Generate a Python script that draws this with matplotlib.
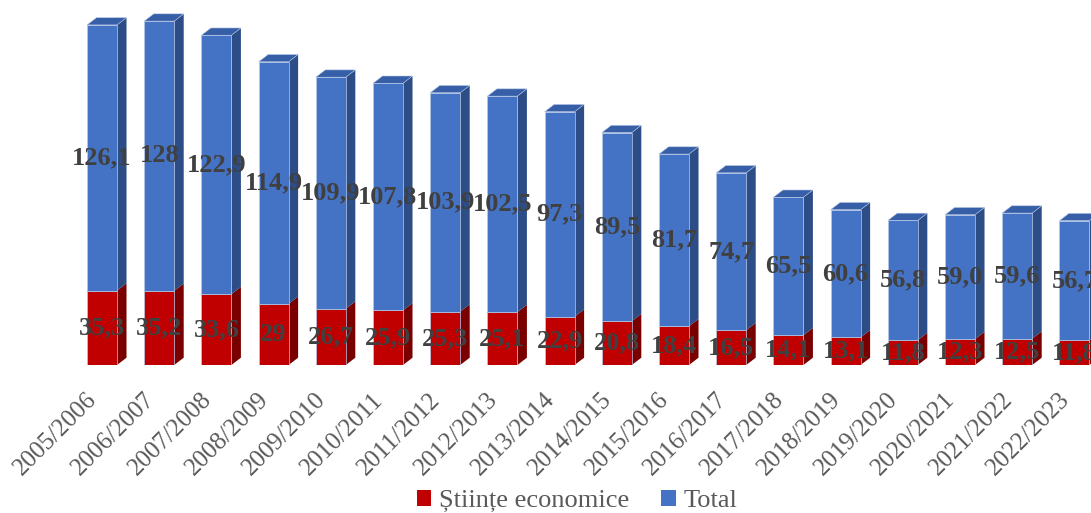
import numpy as np
from matplotlib import pyplot as plt
from matplotlib.patches import Polygon, Patch
from matplotlib.transforms import ScaledTranslation

plt.rcParams['font.family'] = ['Liberation Serif', 'DejaVu Serif']

years = ['2005/2006', '2006/2007', '2007/2008', '2008/2009', '2009/2010',
         '2010/2011', '2011/2012', '2012/2013', '2013/2014', '2014/2015',
         '2015/2016', '2016/2017', '2017/2018', '2018/2019', '2019/2020',
         '2020/2021', '2021/2022', '2022/2023']
econ = [35.3, 35.2, 33.6, 29, 26.7, 25.9, 25.3, 25.1, 22.9, 20.8,
        18.4, 16.5, 14.1, 13.1, 11.8, 12.3, 12.5, 11.8]
total = [126.1, 128, 122.9, 114.9, 109.9, 107.8, 103.9, 102.5, 97.3, 89.5,
         81.7, 74.7, 65.5, 60.6, 56.8, 59.0, 59.6, 56.7]
econ_lbl = ['35,3', '35,2', '33,6', '29', '26,7', '25,9', '25,3', '25,1', '22,9',
            '20,8', '18,4', '16,5', '14,1', '13,1', '11,8', '12,3', '12,5', '11,8']
total_lbl = ['126,1', '128', '122,9', '114,9', '109,9', '107,8', '103,9', '102,5',
             '97,3', '89,5', '81,7', '74,7', '65,5', '60,6', '56,8', '59,0', '59,6', '56,7']

# colours: front, side, top
red = ('#C00000', '#7A0000', '#A00000')
blue = ('#4472C4', '#2C4D86', '#365FA8')

fig = plt.figure(figsize=(10.91, 5.13), dpi=100)
ax = fig.add_axes([0, 148 / 513, 1, 365 / 513])

x = np.arange(len(years))
w = 0.525
dx = 0.166   # depth to the right
dy = 3.46    # depth upward

def draw_seg(xc, bottom, h, cols, top_face):
    ax.bar(xc, h, w, bottom=bottom, color=cols[0], edgecolor='#B8C8E6',
           linewidth=0.5, zorder=3)
    xr = xc + w / 2
    side = Polygon([(xr, bottom), (xr + dx, bottom + dy), (xr + dx, bottom + h + dy),
                    (xr, bottom + h)], closed=True, facecolor=cols[1],
                   edgecolor='none', zorder=2)
    ax.add_patch(side)
    if top_face:
        xl = xc - w / 2
        top = bottom + h
        tp = Polygon([(xl, top), (xr, top), (xr + dx, top + dy), (xl + dx, top + dy)],
                     closed=True, facecolor=cols[2], edgecolor='#B8C8E6',
                     linewidth=0.4, zorder=2)
        ax.add_patch(tp)

for i in range(len(years)):
    draw_seg(x[i], 0, econ[i], red, False)
    draw_seg(x[i], econ[i], total[i], blue, True)
    ax.text(x[i], econ[i] / 2, econ_lbl[i], ha='center', va='center',
            fontsize=19, fontweight='bold', color='#404040', zorder=5)
    ax.text(x[i], econ[i] + total[i] / 2, total_lbl[i], ha='center', va='center',
            fontsize=19, fontweight='bold', color='#404040', zorder=5)

ax.set_xlim(-102 / 57.2, (1091 - 102) / 57.2)
ax.set_ylim(0, 365 / 2.107)
for s in ax.spines.values():
    s.set_visible(False)
ax.set_yticks([])
ax.set_xticks(x)
ax.set_xticklabels(years, rotation=45, ha='right', va='top', rotation_mode='anchor',
                   fontsize=18, color='#595959')
ax.tick_params(axis='x', length=0, pad=17)
for lab in ax.get_xticklabels():
    lab.set_transform(lab.get_transform() + ScaledTranslation(-0.16, 0, fig.dpi_scale_trans))

handles = [Patch(facecolor=red[0]), Patch(facecolor=blue[0])]
fig.legend(handles, ['Științe economice', 'Total'], loc='lower center',
           bbox_to_anchor=(0.529, -0.045), ncol=2, frameon=False, fontsize=19,
           labelcolor='#595959', handlelength=0.55, handleheight=0.55,
           handletextpad=0.3, columnspacing=1.2)

fig.savefig('out.png', dpi=100)
